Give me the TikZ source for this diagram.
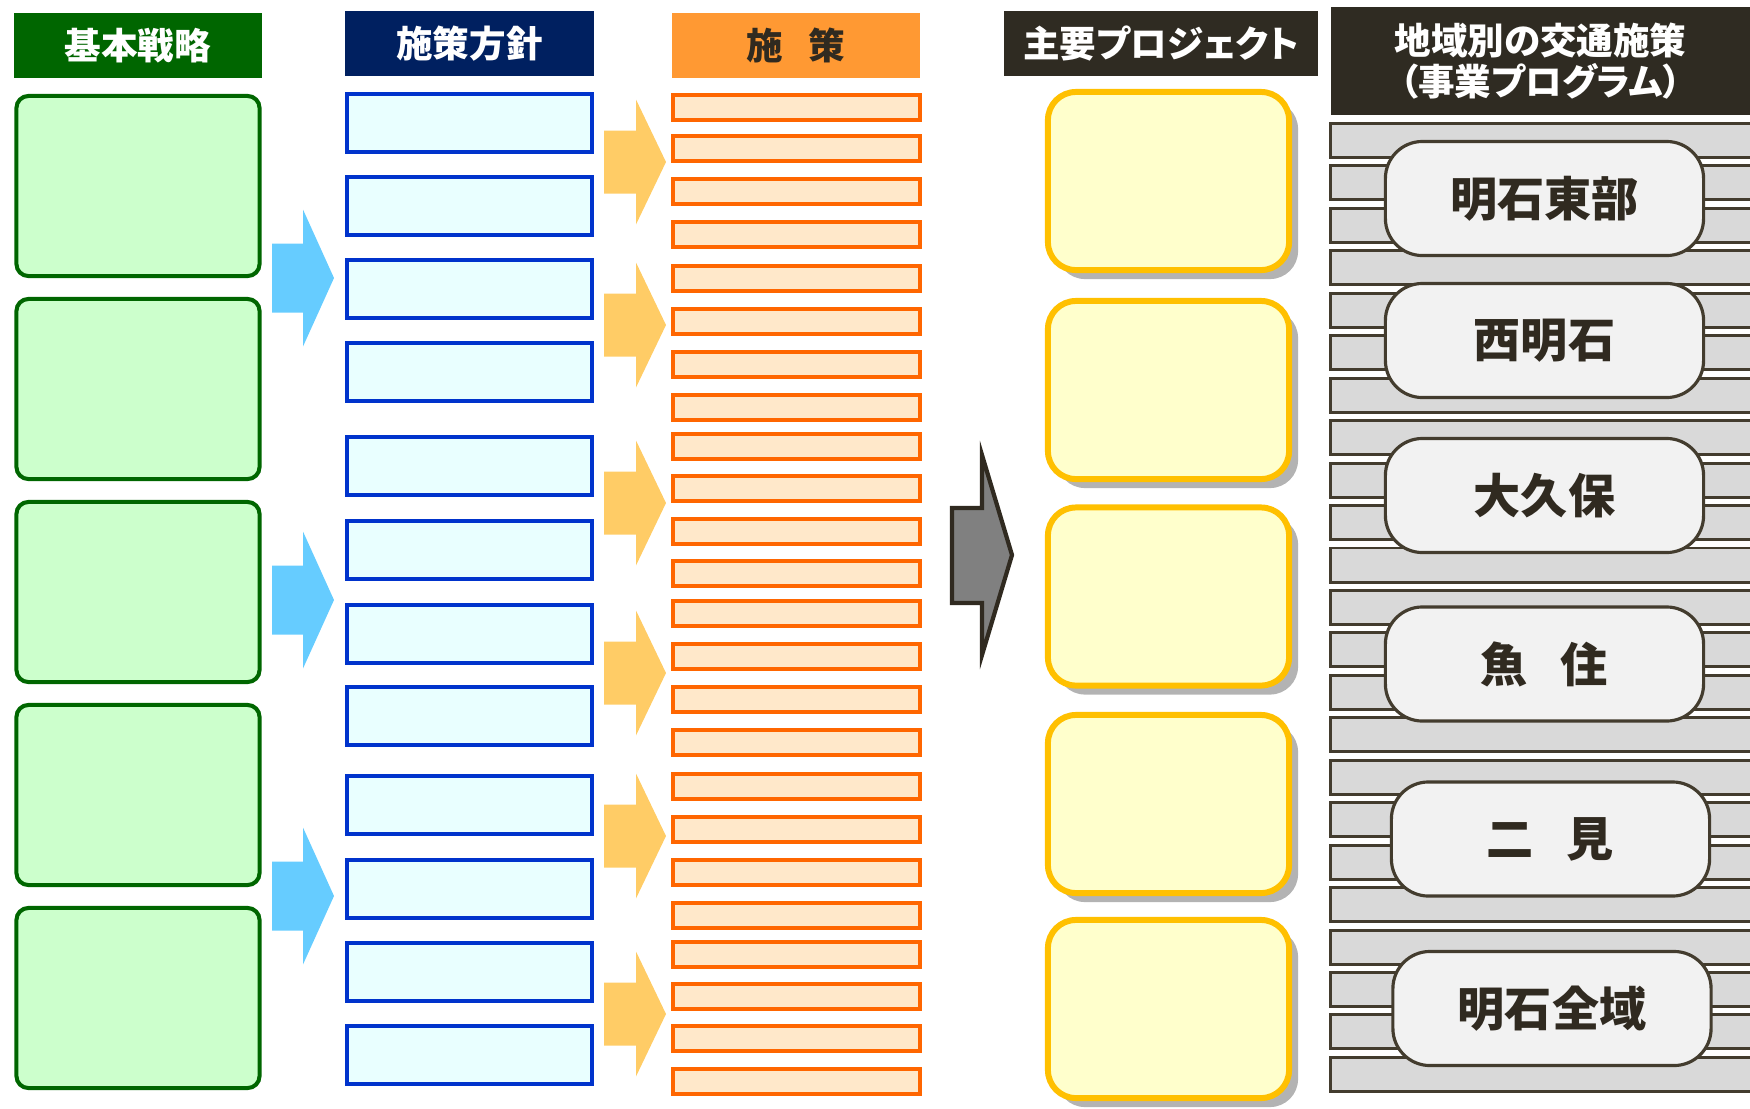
\documentclass[tikz,border=0pt]{standalone}
\usepackage{fontspec}
\newfontfamily\jpfont[RawFeature=+palt]{Noto Sans CJK JP}
\usetikzlibrary{shapes}
\usetikzlibrary{shadows}
\definecolor{hdrgreen}{HTML}{006600}
\definecolor{hdrnavy}{HTML}{002060}
\definecolor{hdrorange}{HTML}{FF9933}
\definecolor{hdrdark}{HTML}{2F2B22}
\definecolor{strfill}{HTML}{CCFFCC}
\definecolor{polline}{HTML}{0033CC}
\definecolor{polfill}{HTML}{E9FFFF}
\definecolor{mealine}{HTML}{FF6600}
\definecolor{meafill}{HTML}{FFE8CA}
\definecolor{prjline}{HTML}{FFC000}
\definecolor{prjfill}{HTML}{FFFFCC}
\definecolor{prjshadow}{HTML}{B3B3B3}
\definecolor{arrblue}{HTML}{66CCFF}
\definecolor{arrorange}{HTML}{FFCC66}
\definecolor{arrgray}{HTML}{808080}
\definecolor{regline}{HTML}{433C2E}
\definecolor{regfill}{HTML}{D9D9D9}
\definecolor{areafill}{HTML}{F2F2F2}
\definecolor{darktext}{HTML}{302A20}

\begin{document}
\begin{tikzpicture}[x=0.01cm,y=-0.01cm]
			\tikzstyle{every node}=[inner sep=0pt,font=\jpfont\bfseries]
			\tikzstyle{hdr}=[rectangle,text=white,font=\jpfont\bfseries\fontsize{10.4}{11.6}\selectfont]
			\tikzstyle{strbox}=[draw=hdrgreen,fill=strfill,line width=1.15pt,rounded corners=0.12cm,minimum width=2.43cm,minimum height=1.80cm]
			\tikzstyle{polbox}=[draw=polline,fill=polfill,line width=1.15pt,minimum width=2.45cm,minimum height=0.58cm]
			\tikzstyle{meabar}=[draw=mealine,fill=meafill,line width=1.1pt,minimum width=2.47cm,minimum height=0.25cm]
			\tikzstyle{prjbox}=[draw=prjline,fill=prjfill,line width=1.7pt,rounded corners=0.28cm,minimum width=2.41cm,minimum height=1.78cm,drop shadow={shadow xshift=0.09cm,shadow yshift=-0.09cm,fill=prjshadow,opacity=1}]
			\tikzstyle{strip}=[draw=regline,fill=regfill,line width=0.85pt,minimum width=4.40cm,minimum height=0.34cm]
			\tikzstyle{area}=[draw=regline,fill=areafill,line width=0.9pt,rounded corners=0.37cm,minimum width=3.18cm,minimum height=1.14cm,text=darktext,font=\jpfont\bfseries\fontsize{13.4}{15}\selectfont]
			
			\useasboundingbox (0,0) rectangle (1750,1108);
			
			\node[hdr,fill=hdrgreen,minimum width=2.48cm,minimum height=0.65cm] (hstr) at (138,45.5) {基本戦略};
			\node[hdr,fill=hdrnavy,minimum width=2.49cm,minimum height=0.65cm] (hpol) at (469.5,43.5) {施策方針};
			\node[hdr,fill=hdrorange,text=darktext,minimum width=2.48cm,minimum height=0.65cm] (hmea) at (796,45.5) {施\hspace{0.7em}策};
			\node[hdr,fill=hdrdark,minimum width=3.14cm,minimum height=0.65cm] (hprj) at (1161,43.5) {主要プロジェクト};
			\node[hdr,fill=hdrdark,minimum width=4.19cm,minimum height=1.08cm,align=center] (hreg) at (1540.5,61) {地域別の交通施策\\（事業プログラム）};
			
			\foreach \y [count=\i] in {186,389,592,795,998}
				\node[strbox] (str\i) at (138,\y) {};
			\foreach \y in {278,600,896}
				\fill[arrblue] (272,\y-34.5) -- (303,\y-34.5) -- (303,\y-68.5) -- (334,\y) -- (303,\y+68.5) -- (303,\y+34.5) -- (272,\y+34.5) -- cycle;
			
			\foreach \y [count=\i] in {123,206,289,372,466,550,634,716,805,889,972,1055}
				\node[polbox] (pol\i) at (469.5,\y) {};
			\foreach \y in {162,325,503,673,836,1014}
				\fill[arrorange] (604,\y-31.5) -- (636,\y-31.5) -- (636,\y-62.5) -- (666,\y) -- (636,\y+62.5) -- (636,\y+31.5) -- (604,\y+31.5) -- cycle;
			
			\foreach \y [count=\i] in {107.5,148.5,191.5,234.5,278.5,321.5,364.5,407.5,446.5,488.5,531.5,573.5,613.5,656.5,699.5,742.5,786.5,829.5,872.5,915.5,954.5,996.5,1038.5,1081.5}
				\node[meabar] (mea\i) at (796.5,\y) {};
			
			\draw[line width=1.2pt,draw=darktext,fill=arrgray] (952,508) -- (982,508) -- (982,455) -- (1012,555) -- (982,655) -- (982,603) -- (952,603) -- cycle;
			
			\foreach \y [count=\i] in {181,390,596.5,804,1009}
				\node[prjbox] (prj\i) at (1168.5,\y) {};
			
			\begin{scope}
				\clip (1320,0) rectangle (1750,1108);
				\foreach \i in {0,...,22}
					\node[strip] (st\i) at (1551,{140.5+42.45*\i}) {};
			\end{scope}
			
			\node[area] (akashieast) at (1544.5,198.5) {明石東部};
			\node[area] (nishiakashi) at (1544.5,340.5) {西明石};
			\node[area] (okubo) at (1544.5,495.5) {大久保};
			\node[area] (uozumi) at (1544.5,664) {魚\hspace{0.7em}住};
			\node[area] (futami) at (1550.5,839) {二\hspace{0.7em}見};
			\node[area] (akashiall) at (1552,1008.5) {明石全域};
			
\end{tikzpicture}
\end{document}
